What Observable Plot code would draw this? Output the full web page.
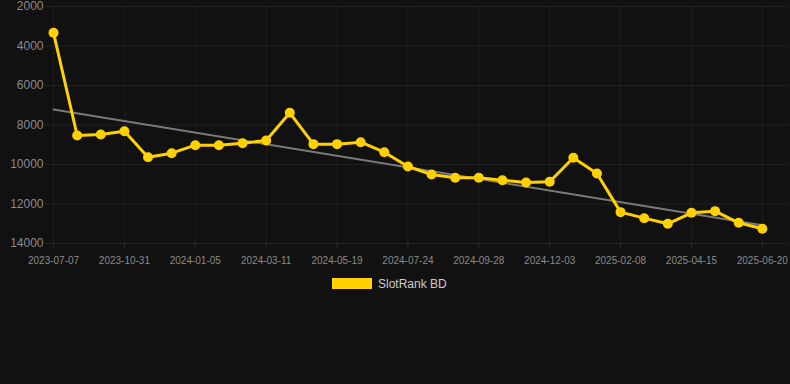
<!DOCTYPE html>
<html>
<head>
<meta charset="utf-8">
<script src="https://cdn.jsdelivr.net/npm/d3@7"></script>
<script src="https://cdn.jsdelivr.net/npm/@observablehq/plot@0.6"></script>
<style>
  html, body { margin: 0; padding: 0; background: #111111; width: 790px; height: 384px; overflow: hidden; }
  #chart svg { display: block; }
  .legend { position: relative; height: 20px; margin-top: 8px; font-family: "Liberation Sans", Arial, sans-serif; font-size: 12px; color: #cccccc; }
  .legend .box { position: absolute; left: 332px; top: 0; width: 40px; height: 11px; background: #ffd100; }
  .legend .lbl { position: absolute; left: 378px; top: -1px; line-height: 15px; }
</style>
</head>
<body>
<div id="chart"></div>
<div class="legend"><span class="box"></span><span class="lbl">SlotRank BD</span></div>
<script>
// Rank values (lower on chart = higher number), one per sample
const values = [
  3333, 8531, 8481, 8313, 9630, 9427, 9022, 9022, 8920, 8785,
  7383, 8970, 8970, 8870, 9376, 10101, 10506, 10675, 10675, 10793,
  10911, 10877, 9660, 10455, 12413, 12717, 13003, 12447, 12362, 12953,
  13256
];
// Tick labels shown every third sample
const tickLabels = [
  "2023-07-07", "2023-10-31", "2024-01-05", "2024-03-11", "2024-05-19", "2024-07-24",
  "2024-09-28", "2024-12-03", "2025-02-08", "2025-04-15", "2025-06-20"
];
const tickEvery = 3;
// Trend line end values (first and last sample)
const trend = [7215, 13073];
const yTicks = [2000, 4000, 6000, 8000, 10000, 12000, 14000];

const xTicks = tickLabels.map((d, i) => i * tickEvery);
const lastIndex = values.length - 1;

const chart = Plot.plot({
  width: 790,
  height: 270,
  marginLeft: 45,
  marginRight: 1,
  marginTop: 6,
  marginBottom: 27,
  style: { background: "#111111", fontFamily: "Liberation Sans, Arial, sans-serif" },
  x: { type: "linear", domain: [-0.34, 31.15] },
  y: { domain: [2000, 14000], reverse: true },
  marks: [
    Plot.gridY(yTicks, { stroke: "#ffffff", strokeOpacity: 0.07 }),
    Plot.gridX(xTicks, { stroke: "#ffffff", strokeOpacity: 0.05 }),
    Plot.axisY(yTicks, { tickSize: 0, tickPadding: 2, fontSize: 12, fill: "#8a8a8a", tickFormat: d => String(d), label: null }),
    Plot.axisX(xTicks, { tickSize: 5, stroke: "#2e2e2e", tickPadding: 8, fontSize: 10, fill: "#8a8a8a", tickFormat: i => tickLabels[i / tickEvery], label: null }),
    Plot.line(trend, { x: (d, i) => i * lastIndex, y: d => d, stroke: "#7a7a7a", strokeWidth: 2 }),
    Plot.line(values, { x: (d, i) => i, y: d => d, stroke: "#ffd100", strokeWidth: 3 }),
    Plot.dot(values, { x: (d, i) => i, y: d => d, r: 5, fill: "#ffd100", stroke: "none" })
  ]
});
document.getElementById("chart").appendChild(chart);
</script>
</body>
</html>
